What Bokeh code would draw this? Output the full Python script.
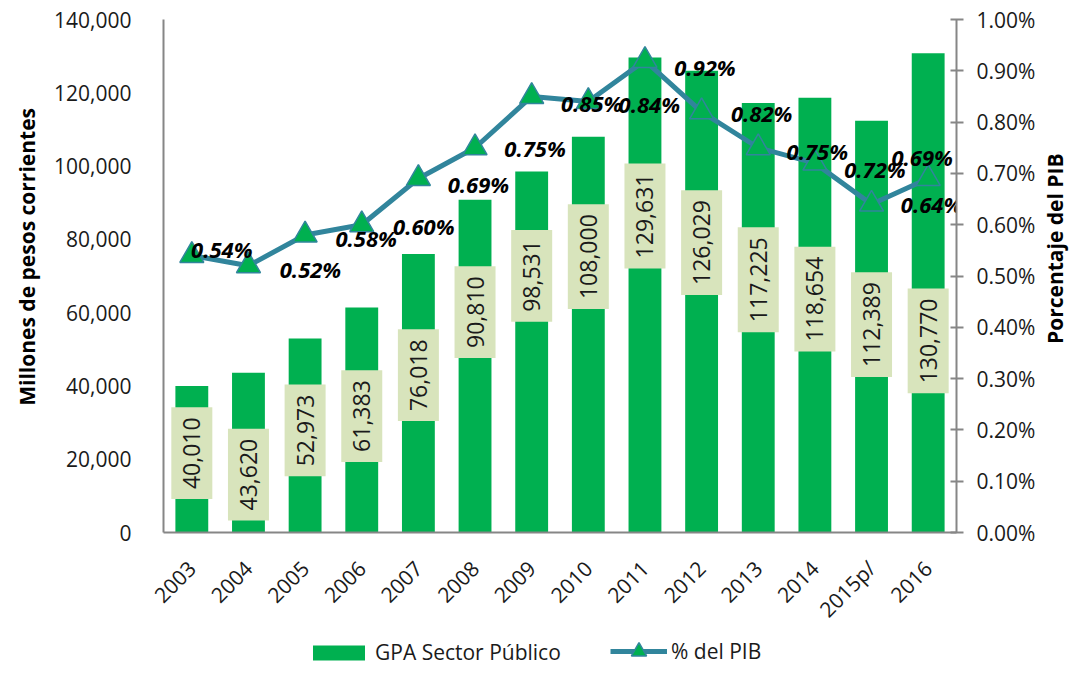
import math
from bokeh.plotting import figure
from bokeh.layouts import column, row
from bokeh.models import (FactorRange, Range1d, LinearAxis, NumeralTickFormatter,
                          PrintfTickFormatter, ColumnDataSource, Legend, LegendItem, Title)
from bokeh.core.properties import value
from bokeh.embed import file_html
from bokeh.resources import INLINE

# ---- data ----
years = ["2003", "2004", "2005", "2006", "2007", "2008", "2009", "2010",
         "2011", "2012", "2013", "2014", "2015p/", "2016"]
gpa = [40010, 43620, 52973, 61383, 76018, 90810, 98531, 108000,
       129631, 126029, 117225, 118654, 112389, 130770]
pct_pib = [0.54, 0.52, 0.58, 0.60, 0.69, 0.75, 0.85, 0.84,
           0.92, 0.82, 0.75, 0.72, 0.64, 0.69]
left_ticks = [0, 20000, 40000, 60000, 80000, 100000, 120000, 140000]
right_ticks = [0.0, 0.1, 0.2, 0.3, 0.4, 0.5, 0.6, 0.7, 0.8, 0.9, 1.0]

# ---- label placement (screen-pixel offsets, layout only) ----
bar_label_dy = [-6, 22, -5, -4, -18, -54, -76, -78, -79, -59, -38, -16, -2, 48]
pct_label_dx = [30, 62, 61, 62, 60, 60, 60, 61, 60, 60, 59, 60, 60, -6]
pct_label_dy = [-6, 3, 3, 1, 5, 0, 7, 2, 6, 1, 3, 6, 0, -22]

FONT = "Open Sans"
GREEN = "#00B050"
TEAL = "#31859C"
BOX = "#D8E4BC"
AXIS = "#868686"
TXT = "#1a1a1a"
W_TOTAL = 1072
W_SIDE = 34
W = W_TOTAL - W_SIDE
H = 636
TOP, BOTTOM = 19, H - 532
NB = "\u00a0"

src = ColumnDataSource(dict(
    year=years,
    gpa=gpa,
    mid=[v / 2 for v in gpa],
    blabel=[f"{v:,}" for v in gpa],
    bdy=bar_label_dy,
    pct=pct_pib,
    plabel=[f"{v:.2f}%" for v in pct_pib],
    pdx=pct_label_dx,
    pdy=pct_label_dy,
))

p = figure(width=W, height=H, x_range=FactorRange(*years, range_padding=0),
           y_range=Range1d(0, 140000), output_backend="svg", toolbar_location=None,
           min_border_left=163, min_border_right=W - 958, min_border_top=TOP,
           min_border_bottom=BOTTOM)
p.extra_y_ranges = {"pct": Range1d(0, 1.0)}
p.outline_line_color = None
p.xgrid.grid_line_color = None
p.ygrid.grid_line_color = None

bars = p.vbar(x="year", top="gpa", width=0.58, source=src,
              fill_color=GREEN, line_color=None)

p.text(x="year", y="mid", text="blabel", source=src, angle=math.pi / 2,
       y_offset="bdy", text_align="center", text_baseline="middle",
       text_font=value(FONT), text_font_size="23px", text_color=TXT,
       background_fill_color=BOX, padding=dict(x=10, y=12))

line = p.line(x="year", y="pct", source=src, y_range_name="pct",
              line_color=TEAL, line_width=5)
marks = p.scatter(x="year", y="pct", source=src, y_range_name="pct",
                  marker="triangle", size=24, fill_color=GREEN,
                  line_color=TEAL, line_width=1.5)

p.text(x="year", y="pct", text="plabel", source=src, y_range_name="pct",
       x_offset="pdx", y_offset="pdy", text_align="center", text_baseline="middle",
       text_font=value(FONT), text_font_size="22px", text_font_style="bold italic",
       text_color="#000000")

# left axis
ya = p.yaxis[0]
ya.ticker = left_ticks
ya.formatter = NumeralTickFormatter(format="0,0")
ya.axis_label = NB * 7 + "Millones de pesos corrientes"
ya.axis_label_text_font = FONT
ya.axis_label_text_font_size = "21px"
ya.axis_label_text_font_style = "bold"
ya.axis_label_text_color = "#000000"
ya.axis_label_standoff = 10
ya.major_label_text_font = FONT
ya.major_label_text_font_size = "21px"
ya.major_label_text_color = TXT
ya.major_label_standoff = 26
ya.major_tick_line_color = None
ya.minor_tick_line_color = None
ya.axis_line_color = AXIS
ya.axis_line_width = 2

# right axis
ra = LinearAxis(y_range_name="pct", ticker=right_ticks,
                formatter=PrintfTickFormatter(format="%.2f%%"))
ra.major_label_text_font = FONT
ra.major_label_text_font_size = "21px"
ra.major_label_text_color = TXT
ra.major_label_standoff = 13
ra.major_tick_in = 6
ra.major_tick_out = 7
ra.major_tick_line_color = AXIS
ra.major_tick_line_width = 2
ra.minor_tick_line_color = None
ra.axis_line_color = AXIS
ra.axis_line_width = 2
p.add_layout(ra, "right")

# x axis
xa = p.xaxis[0]
xa.major_label_orientation = math.pi / 4
xa.major_label_text_font = FONT
xa.major_label_text_font_size = "21px"
xa.major_label_text_color = TXT
xa.major_label_standoff = 26
xa.major_tick_line_color = None
xa.minor_tick_line_color = None
xa.axis_line_color = AXIS
xa.axis_line_width = 2

# right-hand axis title strip (reads bottom to top, sits a little above centre)
rf = figure(width=W_SIDE, height=H, x_range=Range1d(0, 1), y_range=Range1d(0, 1),
            output_backend="svg", toolbar_location=None, x_axis_type=None,
            y_axis_type=None, min_border_left=0, min_border_right=0,
            min_border_top=TOP, min_border_bottom=BOTTOM)
rf.outline_line_color = None
rf.xgrid.grid_line_color = None
rf.ygrid.grid_line_color = None
rf.add_layout(Title(text=NB * 10 + "Porcentaje del PIB", align="center",
                    text_font=FONT, text_font_size="21px", text_font_style="bold",
                    text_color="#000000", offset=0, standoff=0), "left")

# legend strip
lg = figure(width=W_TOTAL, height=30, x_range=Range1d(0, 1), y_range=Range1d(0, 1),
            output_backend="svg", toolbar_location=None, x_axis_type=None,
            y_axis_type=None, min_border=0)
lg.outline_line_color = None
lg.xgrid.grid_line_color = None
lg.ygrid.grid_line_color = None
lsrc = ColumnDataSource(dict(x=[-5.0], y=[-5.0]))
lb = lg.vbar(x="x", top="y", width=0.5, source=lsrc, fill_color=GREEN, line_color=None)
ll = lg.line(x="x", y="y", source=lsrc, line_color=TEAL, line_width=5)
lm = lg.scatter(x="x", y="y", source=lsrc, marker="triangle", size=24,
                fill_color=GREEN, line_color=TEAL, line_width=1.5)
common = dict(orientation="horizontal", border_line_color=None,
              background_fill_alpha=0, label_text_font=FONT,
              label_text_font_size="21px", label_text_color=TXT,
              margin=0, padding=0, label_standoff=4)
leg1 = Legend(items=[LegendItem(label="GPA Sector Público", renderers=[lb])],
              location=(306, 0), glyph_width=65, glyph_height=19, **common)
leg2 = Legend(items=[LegendItem(label="% del PIB", renderers=[ll, lm])],
              location=(610, -4), glyph_width=57, glyph_height=38, **common)
lg.add_layout(leg1, "center")
lg.add_layout(leg2, "center")

layout = column(row(p, rf, spacing=0), lg, spacing=0)
open("out.html", "w").write(file_html(layout, INLINE))
